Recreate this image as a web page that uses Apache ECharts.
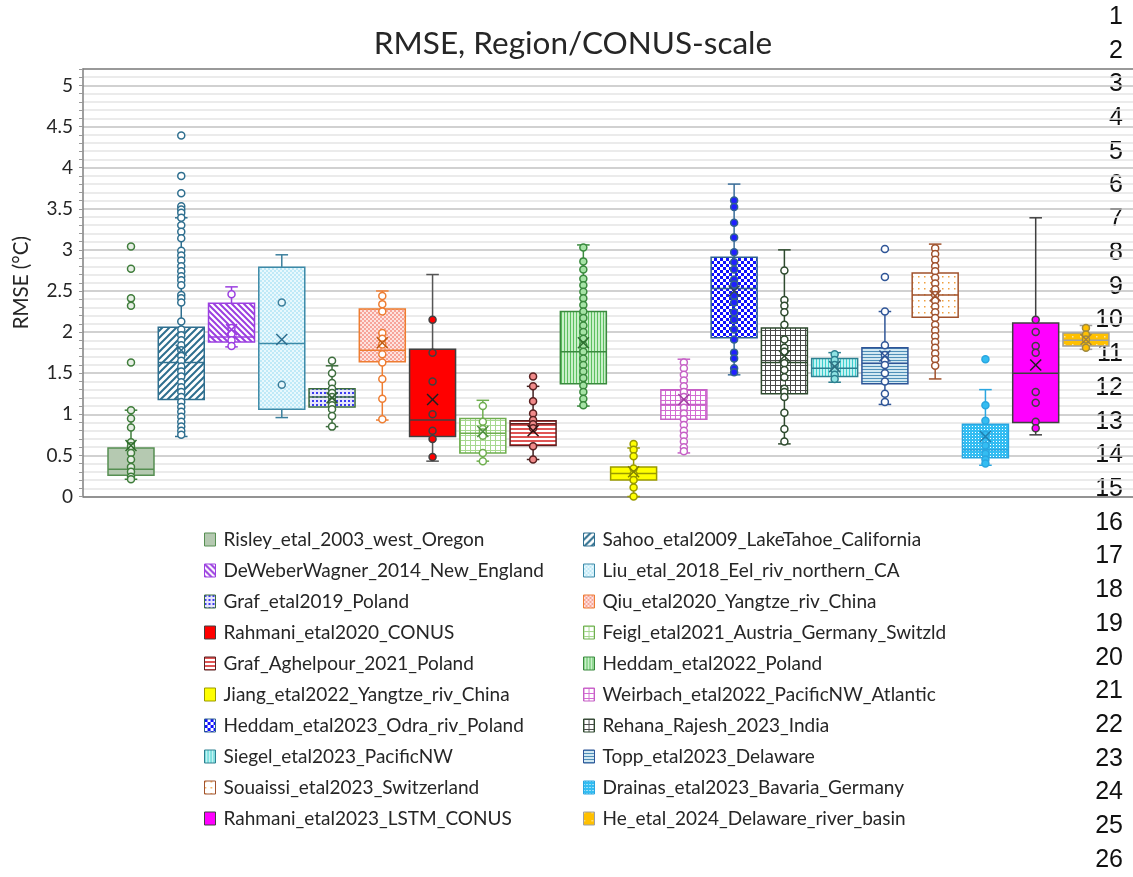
<!DOCTYPE html>
<html><head><meta charset="utf-8">
<script src="https://cdn.jsdelivr.net/npm/echarts@6/dist/echarts.min.js"></script>
<style>html,body{margin:0;padding:0;background:#fff}#c{width:1133px;height:877px}</style>
</head><body><div id="c"></div><script>
// ---------------- DATA ----------------
const studies = [
  'Risley_etal_2003_west_Oregon','Sahoo_etal2009_LakeTahoe_California',
  'DeWeberWagner_2014_New_England','Liu_etal_2018_Eel_riv_northern_CA',
  'Graf_etal2019_Poland','Qiu_etal2020_Yangtze_riv_China',
  'Rahmani_etal2020_CONUS','Feigl_etal2021_Austria_Germany_Switzld',
  'Graf_Aghelpour_2021_Poland','Heddam_etal2022_Poland',
  'Jiang_etal2022_Yangtze_riv_China','Weirbach_etal2022_PacificNW_Atlantic',
  'Heddam_etal2023_Odra_riv_Poland','Rehana_Rajesh_2023_India',
  'Siegel_etal2023_PacificNW','Topp_etal2023_Delaware',
  'Souaissi_etal2023_Switzerland','Drainas_etal2023_Bavaria_Germany',
  'Rahmani_etal2023_LSTM_CONUS','He_etal_2024_Delaware_river_basin'
];
const mins    = [0.21,0.73,1.82,0.96,0.85,0.93,0.43,0.43,0.45,1.10,0.00,0.53,1.48,0.64,1.39,1.12,1.43,0.38,0.75,1.79];
const q1s     = [0.26,1.18,1.88,1.06,1.09,1.64,0.73,0.53,0.62,1.37,0.20,0.94,1.93,1.25,1.46,1.37,2.18,0.47,0.90,1.83];
const medians = [0.33,1.63,1.94,1.86,1.21,1.78,0.93,0.77,0.885,1.76,0.28,1.12,2.53,1.63,1.56,1.62,2.45,0.57,1.50,1.90];
const q3s     = [0.59,2.06,2.35,2.79,1.31,2.28,1.79,0.95,0.92,2.25,0.36,1.30,2.91,2.05,1.68,1.81,2.72,0.88,2.11,1.99];
const maxs    = [1.05,3.39,2.55,2.94,1.59,2.50,2.70,1.17,1.34,3.06,0.59,1.67,3.80,3.00,1.75,2.25,3.07,1.30,3.39,2.08];
const means   = [0.62,1.78,2.03,1.91,1.20,1.87,1.18,0.79,0.80,1.87,0.30,1.18,2.50,1.71,1.58,1.71,2.44,0.73,1.60,1.91];
const points = [
  [3.04,2.77,2.41,2.32,1.63,1.05,0.95,0.84,0.66,0.61,0.53,0.45,0.36,0.30,0.24,0.21],
  [4.39,3.90,3.69,3.53,3.49,3.45,3.39,3.30,3.22,3.14,2.99,2.93,2.87,2.80,2.74,2.68,2.63,2.57,2.45,2.41,2.36,2.13,2.03,1.96,1.90,1.84,1.78,1.71,1.65,1.58,1.52,1.46,1.39,1.33,1.27,1.21,1.15,1.09,1.03,0.97,0.91,0.85,0.80,0.75],
  [2.46,2.05,1.98,1.90,1.83],
  [2.36,1.36],
  [1.65,1.50,1.38,1.31,1.26,1.21,1.16,1.11,1.06,0.98,0.85],
  [2.44,2.34,2.25,1.99,1.92,1.85,1.73,1.63,1.43,1.19,0.94],
  [2.15,1.75,1.40,1.00,0.80,0.70,0.48],
  [1.10,0.91,0.82,0.78,0.74,0.53,0.43],
  [1.46,1.34,1.16,1.01,0.93,0.88,0.83,0.61,0.45],
  [3.03,2.86,2.76,2.65,2.57,2.49,2.41,2.33,2.25,2.17,2.08,2.00,1.92,1.84,1.76,1.68,1.60,1.52,1.44,1.35,1.27,1.19,1.11],
  [0.64,0.57,0.49,0.34,0.27,0.20,0.11,0.00],
  [1.63,1.56,1.48,1.41,1.34,1.27,1.21,1.14,1.08,1.01,0.94,0.87,0.80,0.74,0.67,0.60,0.55],
  [3.60,3.52,3.33,3.15,2.97,2.85,2.76,2.64,2.58,2.44,2.36,2.24,2.15,2.03,1.91,1.75,1.68,1.56,1.51],
  [2.75,2.39,2.32,2.24,2.09,1.91,1.81,1.76,1.62,1.54,1.45,1.31,1.27,1.21,1.02,0.82,0.67],
  [1.73,1.66,1.60,1.54,1.48,1.43],
  [3.01,2.67,2.25,1.84,1.72,1.66,1.60,1.50,1.40,1.25,1.15],
  [3.02,2.95,2.88,2.80,2.74,2.66,2.59,2.52,2.45,2.38,2.31,2.24,2.17,2.09,2.02,1.95,1.88,1.81,1.74,1.67,1.59],
  [1.67,1.11,0.92,0.75,0.62,0.52,0.45,0.40],
  [2.15,2.00,1.83,1.75,1.27,1.14,0.91,0.83],
  [2.05,1.97,1.91,1.81]
];
const rowLabels = ['1','2','3','4','5','6','7','8','9','10','11','12','13','14','15','16','17','18','19','20','21','22','23','24','25','26'];
const titleText = 'RMSE, Region/CONUS-scale';
const yName = 'RMSE (°C)';

// ---------------- PATTERNS / STYLES ----------------
function pat(w, h, draw){
  const c = document.createElement('canvas'); c.width = w; c.height = h;
  const g = c.getContext('2d'); draw(g, w, h);
  return {image: c, repeat: 'repeat'};
}
function diag(fg, bg, s, dir, lw){
  return pat(s, s, (g, w, h) => {
    g.fillStyle = bg; g.fillRect(0, 0, w, h);
    g.strokeStyle = fg; g.lineWidth = lw; g.beginPath();
    if (dir > 0){ g.moveTo(-1, h + 1); g.lineTo(w + 1, -1); g.moveTo(-1, 1); g.lineTo(1, -1); g.moveTo(w - 1, h + 1); g.lineTo(w + 1, h - 1); }
    else { g.moveTo(-1, -1); g.lineTo(w + 1, h + 1); g.moveTo(w - 1, -1); g.lineTo(w + 1, 1); g.moveTo(-1, h - 1); g.lineTo(1, h + 1); }
    g.stroke();
  });
}
function checker(fg, bg, c){
  return pat(2 * c, 2 * c, (g) => { g.fillStyle = bg; g.fillRect(0, 0, 2 * c, 2 * c); g.fillStyle = fg; g.fillRect(0, 0, c, c); g.fillRect(c, c, c, c); });
}
function dots(fg, bg, s, d){
  return pat(s, s, (g) => { g.fillStyle = bg; g.fillRect(0, 0, s, s); g.fillStyle = fg; g.fillRect(0, 0, d, d); });
}
function gridPat(fg, bg, s){
  return pat(s, s, (g) => { g.fillStyle = bg; g.fillRect(0, 0, s, s); g.fillStyle = fg; g.fillRect(0, 0, 1, s); g.fillRect(0, 0, s, 1); });
}
function hstripes(fg, bg, p, lw){
  return pat(4, p, (g) => { g.fillStyle = bg; g.fillRect(0, 0, 4, p); g.fillStyle = fg; g.fillRect(0, 0, 4, lw); });
}
function vstripes(fg, bg, p, lw){
  return pat(p, 4, (g) => { g.fillStyle = bg; g.fillRect(0, 0, p, 4); g.fillStyle = fg; g.fillRect(0, 0, lw, 4); });
}
const looks = [
  {fill: '#b5c9b1', border: '#568f52', line: '#3f7d3b', pt: '#3f7d3b', ptFill: '#e8efe6', mean: '#2e6b2b'},
  {fill: diag('#2f6f8f', '#ffffff', 7, 1, 2), border: '#2f6f8f', line: '#2f6f8f', pt: '#2f6f8f', ptFill: '#ffffff', mean: '#2f6f8f'},
  {fill: diag('#9b3fe0', '#ffffff', 6, -1, 2), border: '#9b3fe0', line: '#9b3fe0', pt: '#9b3fe0', ptFill: '#ffffff', mean: '#9b3fe0'},
  {fill: checker('#bfe9f7', '#e8f8fd', 2), border: '#3c8aa8', line: '#3c7f9c', pt: '#3c7f9c', ptFill: '#e8f8fd', mean: '#2f6f8f'},
  {fill: dots('#3c3cf0', '#e6e6fb', 4, 2), border: '#3e6e3e', line: '#3e6e3e', pt: '#3e6e3e', ptFill: '#ffffff', mean: '#2f5f2f'},
  {fill: checker('#f7a49a', '#fde3df', 2), border: '#ee7d32', line: '#ee7d32', pt: '#ee7d32', ptFill: '#ffffff', mean: '#c05a10'},
  {fill: '#ff0000', border: '#404040', line: '#555555', pt: '#404040', ptFill: '#ff0000', mean: '#202020'},
  {fill: gridPat('#a6d88f', '#ffffff', 5), border: '#6fae4f', line: '#6fae4f', pt: '#6fae4f', ptFill: '#ffffff', mean: '#4f8f3f'},
  {fill: hstripes('#e05555', '#ffffff', 4, 2), border: '#5a2020', line: '#402020', pt: '#5a2020', ptFill: '#f08a8a', mean: '#301010'},
  {fill: vstripes('#5cc060', '#c9f0c9', 3, 1), border: '#3a8a3e', line: '#3a8a3e', pt: '#3a8a3e', ptFill: '#a6e3a6', mean: '#2e6e30'},
  {fill: '#ffff00', border: '#9a9a00', line: '#9a9a00', pt: '#9a9a00', ptFill: '#ffff00', mean: '#808000'},
  {fill: gridPat('#d36bd3', '#ffffff', 5), border: '#c660c6', line: '#c660c6', pt: '#c660c6', ptFill: '#ffffff', mean: '#a040a0'},
  {fill: checker('#1010ff', '#ffffff', 3), border: '#30628f', line: '#3a6e9a', pt: '#30628f', ptFill: '#2020ff', mean: '#304060'},
  {fill: gridPat('#4a4a4a', '#ffffff', 5), border: '#2e4a2e', line: '#2e4a2e', pt: '#2e4a2e', ptFill: '#ffffff', mean: '#2e4a2e'},
  {fill: vstripes('#3ccfcf', '#c4f2f2', 3, 1), border: '#2e8090', line: '#2e8090', pt: '#2e8090', ptFill: '#8fe3e3', mean: '#2e6e80'},
  {fill: hstripes('#4f8fb8', '#d2e8f2', 3, 1), border: '#2f5597', line: '#2f5597', pt: '#2f5597', ptFill: '#ffffff', mean: '#2f5597'},
  {fill: dots('#f0a040', '#ffffff', 6, 1.5), border: '#a0522d', line: '#a0522d', pt: '#a0522d', ptFill: '#ffffff', mean: '#a0522d'},
  {fill: dots('#ffffff', '#33bdf2', 3, 1), border: '#2aa6e0', line: '#2aa6e0', pt: '#2aa6e0', ptFill: '#33bdf2', mean: '#2080b0'},
  {fill: '#ff00ff', border: '#404040', line: '#404040', pt: '#404040', ptFill: '#ff00ff', mean: '#202020'},
  {fill: dots('#ffe6a0', '#ffc000', 8, 1.5), border: '#a0a0a0', line: '#a0a0a0', pt: '#a08a40', ptFill: '#ffc000', mean: '#a08040'}
];

// ---------------- LAYOUT CONSTANTS ----------------
const BOX_W = 0.915, CAP_W = 0.25;
const FONT = 'Lato';

function boxRender(i){
  const L = looks[i];
  return function(params, api){
    const x = api.value(0);
    const P = v => api.coord([x, v]);
    const cx = P(0)[0];
    const bw = api.size([BOX_W, 0])[0], cw = api.size([CAP_W, 0])[0];
    const yMin = P(api.value(1))[1], yQ1 = P(api.value(2))[1], yMed = P(api.value(3))[1],
          yQ3 = P(api.value(4))[1], yMax = P(api.value(5))[1];
    const ls = {stroke: L.line, lineWidth: 1.5};
    return {type: 'group', children: [
      {type: 'line', shape: {x1: cx, y1: yMax, x2: cx, y2: yQ3}, style: ls},
      {type: 'line', shape: {x1: cx, y1: yQ1, x2: cx, y2: yMin}, style: ls},
      {type: 'line', shape: {x1: cx - cw / 2, y1: yMax, x2: cx + cw / 2, y2: yMax}, style: ls},
      {type: 'line', shape: {x1: cx - cw / 2, y1: yMin, x2: cx + cw / 2, y2: yMin}, style: ls},
      {type: 'rect', shape: {x: cx - bw / 2, y: yQ3, width: bw, height: yQ1 - yQ3}, style: {fill: L.fill, stroke: L.border, lineWidth: 1.5}},
      {type: 'line', shape: {x1: cx - bw / 2, y1: yMed, x2: cx + bw / 2, y2: yMed}, style: {stroke: L.border, lineWidth: 1.5}}
    ]};
  };
}
function meanRender(i){
  const L = looks[i];
  return function(params, api){
    const c = api.coord([api.value(0), api.value(1)]);
    const h = 5.5;
    return {type: 'group', children: [
      {type: 'line', shape: {x1: c[0] - h, y1: c[1] - h, x2: c[0] + h, y2: c[1] + h}, style: {stroke: L.mean, lineWidth: 1.5}},
      {type: 'line', shape: {x1: c[0] - h, y1: c[1] + h, x2: c[0] + h, y2: c[1] - h}, style: {stroke: L.mean, lineWidth: 1.5}}
    ]};
  };
}

const series = [];
studies.forEach((name, i) => {
  series.push({
    type: 'custom', name: name, z: 2, silent: true,
    itemStyle: {color: looks[i].fill, borderColor: looks[i].border, borderWidth: 1},
    data: [[i, mins[i], q1s[i], medians[i], q3s[i], maxs[i]]],
    encode: {x: 0, y: [1, 2, 3, 4, 5]},
    renderItem: boxRender(i)
  });
});
studies.forEach((name, i) => {
  series.push({
    type: 'scatter', name: 'pts_' + i, z: 3, silent: true,
    symbol: 'circle', symbolSize: 7,
    itemStyle: {color: looks[i].ptFill, borderColor: looks[i].pt, borderWidth: 1.5, opacity: 1},
    data: points[i].map(v => [i, v])
  });
});
studies.forEach((name, i) => {
  series.push({
    type: 'custom', name: 'mean_' + i, z: 4, silent: true,
    data: [[i, means[i]]], encode: {x: 0, y: 1},
    renderItem: meanRender(i)
  });
});

function legendItems(parity){
  return studies.map((n, i) => ({n, i})).filter(o => o.i % 2 === parity).map(o => ({
    name: o.n,
    itemStyle: {color: looks[o.i].fill, borderColor: looks[o.i].border, borderWidth: 1}
  }));
}
const legendCommon = {
  orient: 'vertical', icon: 'rect', itemWidth: 11, itemHeight: 13, itemGap: 12,
  selectedMode: false, padding: 0,
  textStyle: {fontFamily: FONT, fontSize: 19, color: '#262626', lineHeight: 13, padding: [0, 0, 0, 3]}
};

const graphics = rowLabels.map((t, k) => ({
  type: 'text', z: -10, silent: true,
  style: {text: t, x: 1123, y: 17 + 33.72 * k, align: 'right', verticalAlign: 'middle',
          font: '25px "Liberation Sans", Arial, sans-serif', fill: '#111111'}
}));

const chart = echarts.init(document.getElementById('c'), null, {renderer: 'canvas'});
chart.setOption({
  animation: false,
  backgroundColor: '#ffffff',
  title: {text: titleText, left: 568, textAlign: 'center', top: 23,
          textStyle: {fontFamily: FONT, fontSize: 31.5, fontWeight: 'normal', color: '#262626'}},
  grid: {left: 83, right: 0, top: 69, bottom: 380.5, containLabel: false, outerBoundsMode: 'none'},
  legend: [
    Object.assign({}, legendCommon, {left: 204, top: 530, data: legendItems(0)}),
    Object.assign({}, legendCommon, {left: 583, top: 530, data: legendItems(1)})
  ],
  xAxis: [
    {type: 'value', min: -0.955, max: 19.936, position: 'bottom',
     axisLine: {show: true, onZero: false, lineStyle: {color: '#7f7f7f', width: 1.5}},
     axisTick: {show: false}, axisLabel: {show: false}, splitLine: {show: false}},
    {type: 'value', min: -0.955, max: 19.936, position: 'top',
     axisLine: {show: true, onZero: false, lineStyle: {color: '#7f7f7f', width: 1.5}},
     axisTick: {show: false}, axisLabel: {show: false}, splitLine: {show: false}}
  ],
  yAxis: {
    type: 'value', min: 0, max: 5.2, interval: 0.1, position: 'left',
    name: yName, nameLocation: 'middle', nameGap: 51,
    nameTextStyle: {fontFamily: FONT, fontSize: 20.5, color: '#262626'},
    axisLine: {show: true, onZero: false, lineStyle: {color: '#7f7f7f', width: 1.5}},
    axisTick: {show: true, length: 4, lineStyle: {color: '#9a9a9a'}},
    axisLabel: {fontFamily: FONT, fontSize: 19, color: '#262626', margin: 10,
      formatter: v => (Math.abs(v * 2 - Math.round(v * 2)) < 1e-6 && v <= 5.0001) ? String(+v.toFixed(1)) : ''},
    splitLine: {show: true, lineStyle: {color: ['#c2c2c2', '#e4e4e4', '#e4e4e4', '#e4e4e4', '#e4e4e4'], width: 1.5}}
  },
  graphic: graphics,
  series: series
});
</script></body></html>
